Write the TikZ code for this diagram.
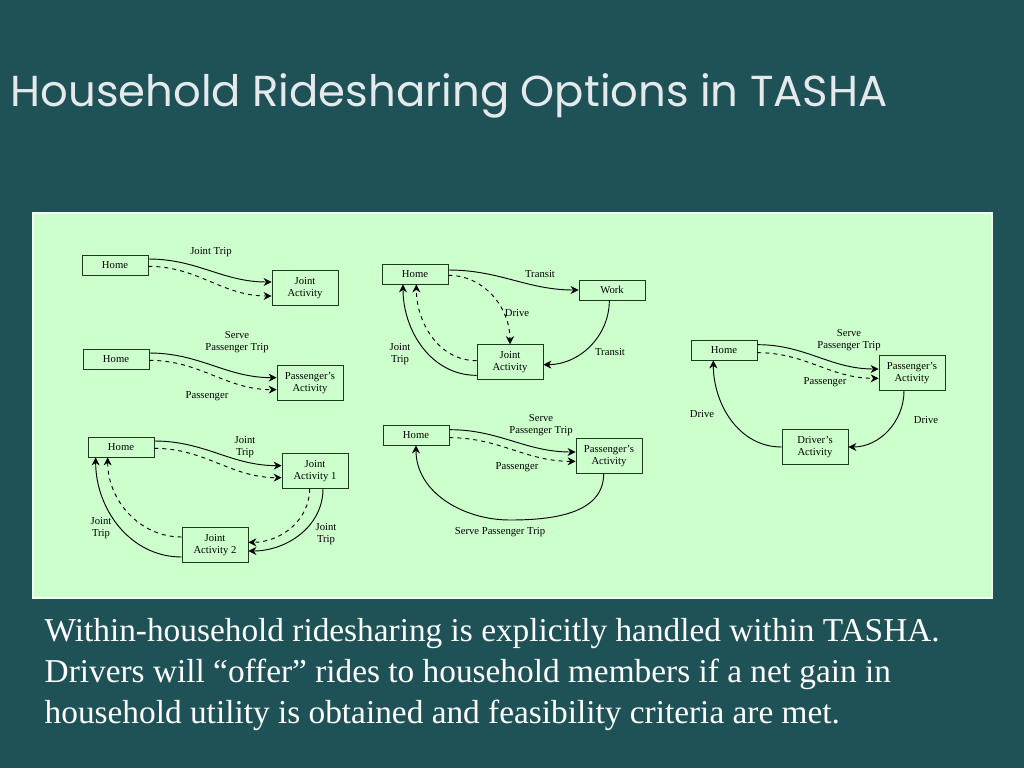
\documentclass[tikz,border=0pt]{standalone}
\usepackage{fontspec}
\setmainfont{Liberation Serif}
\newfontfamily\titlefont{Poppins}
\usetikzlibrary{arrows.meta}
\definecolor{slatebg}{HTML}{1F5257}
\definecolor{panelgreen}{HTML}{CCFFCC}
\definecolor{boxline}{HTML}{1E3A1E}
\tikzset{
  box/.style={draw=boxline, fill=panelgreen, line width=0.6pt, minimum width=49.5pt,
    minimum height=15pt, inner sep=1pt, align=center, font=\fontsize{8}{9}\selectfont},
  tall/.style={box, minimum height=26pt},
  lbl/.style={align=center, font=\fontsize{8}{9}\selectfont, inner sep=0pt},
  trip/.style={-{Stealth[length=6pt,width=6pt]}, line width=0.7pt},
  ride/.style={trip, dashed}
}
\begin{document}
\begin{tikzpicture}[x=0.75pt, y=-0.75pt]
  \fill[slatebg] (0,0) rectangle (1024,768);
  \useasboundingbox (0,0) rectangle (1024,768);
  \node[anchor=west, text=white!88!slatebg, font=\titlefont\fontsize{32.5}{36}\selectfont] (title) at (6,96) {Household Ridesharing Options in TASHA};
  \draw[fill=panelgreen, draw=white!70!panelgreen, line width=1pt] (33,213) rectangle (992,598);

  % joint trip
  \node[box] (h1) at (115,265) {Home};
  \node[tall] (ja) at (305,288) {Joint\\Activity};
  \draw[trip] ([yshift=4.5pt]h1.east) to[out=0,in=180] ([yshift=4.5pt]ja.west);
  \draw[ride] ([yshift=-1pt]h1.east) to[out=0,in=180] ([yshift=-6pt]ja.west);
  \node[lbl] (l1) at (211,252) {Joint Trip};

  % serve passenger
  \node[box] (h2) at (116,359) {Home};
  \node[tall] (pa) at (310,383) {Passenger's\\Activity};
  \draw[trip] ([yshift=4.5pt]h2.east) to[out=0,in=180] ([yshift=4pt]pa.west);
  \draw[ride] ([yshift=-1pt]h2.east) to[out=0,in=180] ([yshift=-5pt]pa.west);
  \node[lbl] (l2) at (237,342) {Serve\\Passenger Trip};
  \node[lbl] (l3) at (207,396) {Passenger};

  % joint tour
  \node[box] (h3) at (121,447) {Home};
  \node[tall] (jb) at (315,471) {Joint\\Activity 1};
  \node[tall] (jc) at (215,545) {Joint\\Activity 2};
  \draw[trip] ([yshift=4.5pt]h3.east) to[out=0,in=180] ([yshift=4pt]jb.west);
  \draw[ride] ([yshift=-1pt]h3.east) to[out=0,in=180] ([yshift=-5pt]jb.west);
  \draw[trip] ([xshift=6pt]jb.south) to[out=-90,in=0] ([yshift=-4.5pt]jc.east);
  \draw[ride] ([xshift=-4pt]jb.south) to[out=-90,in=0] ([yshift=2pt]jc.east);
  \draw[trip] ([yshift=-9pt]jc.west) to[out=180,in=-90] ([xshift=-19pt]h3.south);
  \draw[ride] ([yshift=6pt]jc.west) to[out=180,in=-90] ([xshift=-10pt]h3.south);
  \node[lbl] (l4) at (245,447) {Joint\\Trip};
  \node[lbl] (l5) at (101,528) {Joint\\Trip};
  \node[lbl] (l6) at (326,534) {Joint\\Trip};

  % transit to work
  \node[box] (h4) at (415,274) {Home};
  \node[box] (wk) at (612,290) {Work};
  \node[tall] (jd) at (510,362) {Joint\\Activity};
  \draw[trip] ([yshift=3pt]h4.east) to[out=0,in=180] (wk.west);
  \draw[ride] ([yshift=-1pt]h4.east) to[out=0,in=90] (jd.north);
  \draw[trip] ([xshift=-2pt]wk.south) to[out=-90,in=0] ([yshift=-2pt]jd.east);
  \draw[trip] ([yshift=-10pt]jd.west) to[out=180,in=-90] ([xshift=-9pt]h4.south);
  \draw[ride] ([yshift=1pt]jd.west) to[out=180,in=-90] ([xshift=1pt]h4.south);
  \node[lbl] (l7) at (540,274) {Transit};
  \node[lbl] (l8) at (517,313) {Drive};
  \node[lbl] (l9) at (610,352) {Transit};
  \node[lbl] (l10) at (400,354) {Joint\\Trip};

  % serve passenger and return
  \node[box] (h5) at (416,435) {Home};
  \node[tall] (pb) at (609,456) {Passenger's\\Activity};
  \draw[trip] ([yshift=4pt]h5.east) to[out=0,in=180] ([yshift=3pt]pb.west);
  \draw[ride] ([yshift=-2pt]h5.east) to[out=0,in=180] ([yshift=-4pt]pb.west);
  \draw[trip] ([xshift=-4pt]pb.south) to[out=-90,in=0] (510,520) to[out=180,in=-90] (h5.south);
  \node[lbl] (l11) at (541,425) {Serve\\Passenger Trip};
  \node[lbl] (l12) at (517,467) {Passenger};
  \node[lbl] (l13) at (500,532) {Serve Passenger Trip};

  % driver's activity
  \node[box] (h6) at (724,350) {Home};
  \node[tall] (pc) at (912,373) {Passenger's\\Activity};
  \node[tall] (dr) at (815,447) {Driver's\\Activity};
  \draw[trip] ([yshift=4pt]h6.east) to[out=0,in=180] ([yshift=3pt]pc.west);
  \draw[ride] ([yshift=-2pt]h6.east) to[out=0,in=180] ([yshift=-4pt]pc.west);
  \draw[trip] ([xshift=-6pt]pc.south) to[out=-90,in=0] (dr.east);
  \draw[trip] (dr.west) to[out=180,in=-90] ([xshift=-8pt]h6.south);
  \node[lbl] (l14) at (849,340) {Serve\\Passenger Trip};
  \node[lbl] (l15) at (825,382) {Passenger};
  \node[lbl] (l16) at (702,414) {Drive};
  \node[lbl] (l17) at (926,420) {Drive};

  \node[anchor=north west, align=left, text=white, font=\fontsize{25}{30.5}\selectfont] (note) at (40,614)
    {Within-household ridesharing is explicitly handled within TASHA.\\
     Drivers will “offer” rides to household members if a net gain in\\
     household utility is obtained and feasibility criteria are met.};
\end{tikzpicture}
\end{document}
